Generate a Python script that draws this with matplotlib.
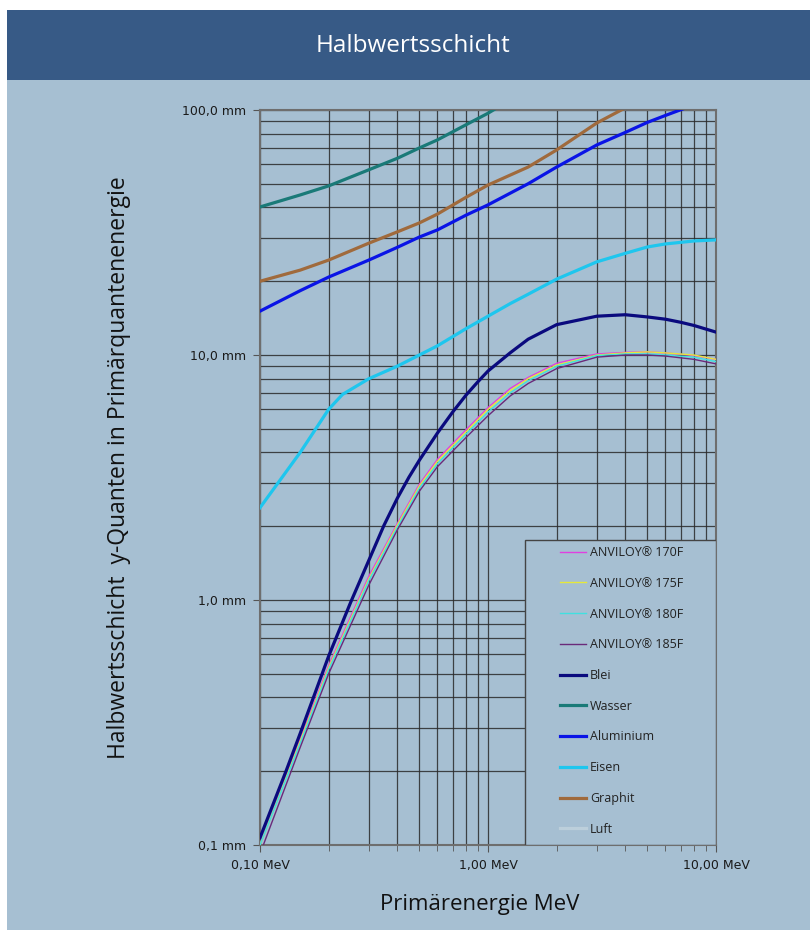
import matplotlib
matplotlib.use("Agg")
import matplotlib.pyplot as plt
import matplotlib.ticker as mticker
from matplotlib.patches import Rectangle

# energies in MeV, half-value layers in mm
e_anviloy = [0.1, 0.15, 0.2, 0.3, 0.4, 0.5, 0.6, 0.8, 1.0, 1.25, 1.5, 2, 3, 4, 5, 6, 8, 10]
anviloy_170 = [0.10, 0.27, 0.54, 1.25, 2.05, 2.97, 3.75, 4.95, 6.1, 7.3, 8.1, 9.25, 10.1, 10.25, 10.3, 10.2, 9.95, 9.6]
anviloy_175 = [0.10, 0.265, 0.53, 1.22, 2.02, 2.92, 3.68, 4.85, 6.0, 7.15, 8.0, 9.1, 10.0, 10.2, 10.3, 10.2, 10.0, 9.6]
anviloy_180 = [0.10, 0.26, 0.52, 1.20, 1.98, 2.86, 3.6, 4.75, 5.85, 7.0, 7.85, 9.0, 9.95, 10.1, 10.1, 10.0, 9.8, 9.4]
anviloy_185 = [0.092, 0.25, 0.50, 1.15, 1.93, 2.78, 3.5, 4.6, 5.65, 6.8, 7.65, 8.8, 9.8, 10.0, 10.0, 9.9, 9.6, 9.2]

e_blei = [0.1, 0.13, 0.15, 0.2, 0.25, 0.3, 0.35, 0.4, 0.45, 0.5, 0.6, 0.7, 0.8, 0.9, 1.0, 1.25, 1.5, 2, 3, 4, 5, 6, 7, 8, 10]
blei = [0.107, 0.2, 0.285, 0.59, 0.98, 1.45, 2.02, 2.6, 3.17, 3.72, 4.8, 5.85, 6.85, 7.75, 8.6, 10.2, 11.6, 13.3, 14.4, 14.6, 14.3, 14.0, 13.6, 13.2, 12.4]

e_wasser = [0.1, 0.15, 0.2, 0.3, 0.4, 0.5, 0.6, 0.8, 1.0, 1.25]
wasser = [40.2, 45, 49, 57, 63.5, 70, 75.5, 87, 97, 110]

e_alu = [0.1, 0.15, 0.2, 0.3, 0.4, 0.5, 0.6, 0.8, 1.0, 1.5, 2, 3, 4, 5, 6, 8]
aluminium = [15.1, 18.3, 20.8, 24.4, 27.5, 30.3, 32.4, 37.2, 41, 50, 58.5, 72, 81, 89, 95, 105]

e_eisen = [0.1, 0.15, 0.2, 0.23, 0.3, 0.4, 0.5, 0.6, 0.8, 1.0, 1.25, 1.5, 2, 3, 4, 5, 6, 8, 10]
eisen = [2.38, 4.0, 6.0, 6.9, 8.0, 9.0, 10.0, 10.9, 12.8, 14.4, 16.2, 17.7, 20.4, 24.0, 26.0, 27.6, 28.4, 29.2, 29.5]

e_graphit = [0.1, 0.15, 0.2, 0.3, 0.4, 0.5, 0.6, 0.8, 1.0, 1.5, 2, 3, 4]
graphit = [20, 22.2, 24.4, 28.6, 31.8, 34.6, 37.6, 44, 49.4, 58.5, 68.7, 88.5, 102]

# air lies far above the plotted range
e_luft = [0.1, 0.2, 0.5, 1.0, 2, 5, 10]
luft = [35000, 45000, 70000, 97000, 135000, 210000, 290000]

series = [
    ("ANVILOY\u00ae 170F", e_anviloy, anviloy_170, "#e040e0", 1.0),
    ("ANVILOY\u00ae 175F", e_anviloy, anviloy_175, "#e6e83a", 1.0),
    ("ANVILOY\u00ae 180F", e_anviloy, anviloy_180, "#40e0e0", 1.0),
    ("ANVILOY\u00ae 185F", e_anviloy, anviloy_185, "#6a2a7a", 1.0),
    ("Blei", e_blei, blei, "#0a0a7e", 2.3),
    ("Wasser", e_wasser, wasser, "#1a7a78", 2.3),
    ("Aluminium", e_alu, aluminium, "#0a14e6", 2.3),
    ("Eisen", e_eisen, eisen, "#1ec6ee", 2.3),
    ("Graphit", e_graphit, graphit, "#a06a3c", 2.3),
    ("Luft", e_luft, luft, "#bccfdb", 2.3),
]

BG = "#a6bfd2"
HEADER = "#375a86"

fig = plt.figure(figsize=(8.1, 9.3), dpi=100)
fig.patch.set_facecolor("white")
fig.patches.append(Rectangle((7 / 810, 0), 1, 1 - 10 / 930, transform=fig.transFigure,
                             facecolor=BG, edgecolor="none", zorder=-2))
fig.patches.append(Rectangle((7 / 810, 1 - 80 / 930), 1, 70 / 930, transform=fig.transFigure,
                             facecolor=HEADER, edgecolor="none", zorder=-1))
fig.text(0.51, 1 - 46 / 930, "Halbwertsschicht", color="white", fontsize=17.5,
         family="Open Sans", ha="center", va="center")

ax = fig.add_axes([260 / 810, 1 - 845 / 930, 456 / 810, 735 / 930])
ax.set_facecolor(BG)

for name, x, y, col, lw in series:
    ax.plot(x, y, color=col, lw=lw, label=name, zorder=3)

ax.set_xscale("log")
ax.set_yscale("log")
ax.set_xlim(0.1, 10)
ax.set_ylim(0.1, 100)

ax.grid(True, which="both", color="#2a2a2a", lw=0.9, alpha=0.85, zorder=1)
ax.set_axisbelow(True)
for s in ax.spines.values():
    s.set_color("#6e6e6e")
    s.set_linewidth(1.5)

ax.xaxis.set_major_locator(mticker.FixedLocator([0.1, 1, 10]))
ax.xaxis.set_major_formatter(mticker.FixedFormatter(["0,10 MeV", "1,00 MeV", "10,00 MeV"]))
ax.xaxis.set_minor_locator(mticker.LogLocator(base=10, subs=range(2, 10)))
ax.xaxis.set_minor_formatter(mticker.NullFormatter())
ax.yaxis.set_major_locator(mticker.FixedLocator([0.1, 1, 10, 100]))
ax.yaxis.set_major_formatter(mticker.FixedFormatter(["0,1 mm", "1,0 mm", "10,0 mm", "100,0 mm"]))
ax.yaxis.set_minor_locator(mticker.LogLocator(base=10, subs=range(2, 10)))
ax.yaxis.set_minor_formatter(mticker.NullFormatter())
ax.tick_params(axis="both", which="major", length=5, color="#555555", labelsize=9, pad=5,
               labelcolor="#1a1a1a")
ax.tick_params(axis="x", which="minor", length=4, color="#555555")
ax.tick_params(axis="y", which="minor", length=0)

ax.set_xlabel("Primärenergie MeV", fontsize=16, family="Open Sans", color="#111111")
ax.set_ylabel("Halbwertsschicht  y-Quanten in Primärquantenenergie", fontsize=16.5,
              family="Open Sans", color="#111111")
ax.xaxis.set_label_coords(0.482, -0.066)
ax.yaxis.set_label_coords(-0.283, 0.514)

# legend box (drawn by hand so the padding matches the original)
ax.add_patch(Rectangle(((525 - 260) / 456, 0), (716 - 525) / 456, (845 - 540) / 735,
                       transform=ax.transAxes, facecolor=BG, edgecolor="#444444",
                       lw=1.0, zorder=4))
leg = ax.legend(loc="upper left", bbox_to_anchor=((560 - 260) / 456, (845 - 546) / 735),
                frameon=False, borderaxespad=0, borderpad=0, fontsize=9,
                handlelength=2.1, handletextpad=0.3, labelspacing=1.42)
for t in leg.get_texts():
    t.set_family("Open Sans")
    t.set_color("#222222")
leg.set_zorder(5)

fig.savefig("out.png", dpi=100, facecolor=fig.get_facecolor())
